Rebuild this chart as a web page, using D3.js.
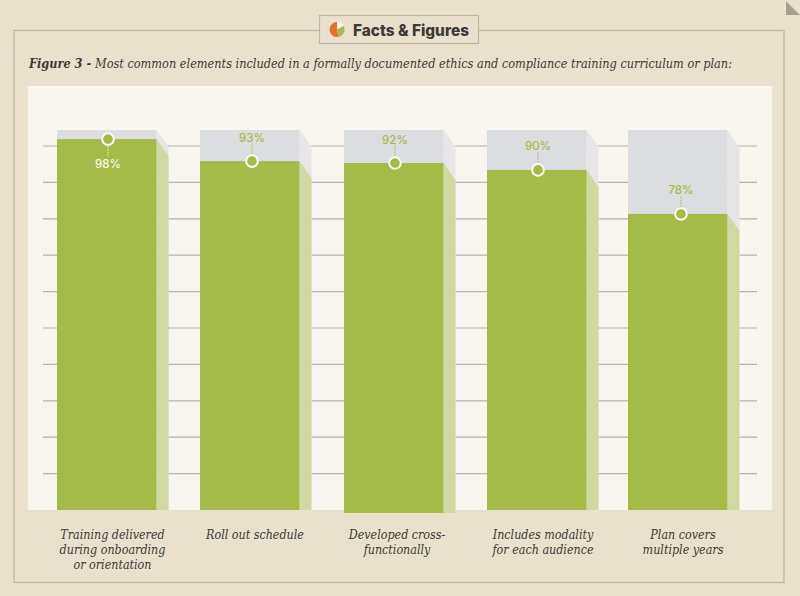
<!DOCTYPE html>
<html><head><meta charset="utf-8">
<script src="https://cdn.jsdelivr.net/npm/d3@7/dist/d3.min.js"></script>
<style>html,body{margin:0;padding:0;background:#e9e1cd}svg{display:block}</style>
</head><body><svg id="c" width="800" height="596"></svg>
<script>
const categories = [
  ["Training delivered","during onboarding","or orientation"],
  ["Roll out schedule"],
  ["Developed cross-","functionally"],
  ["Includes modality","for each audience"],
  ["Plan covers","multiple years"]
];
const barValues = [97.6, 91.8, 91.3, 89.5, 77.9];
const valueLabels = ["98%","93%","92%","90%","78%"];
const gridSteps = [1,2,3,4,5,6,7,8,9,10];
const pieShares = [0.17, 0.30, 0.53];
const pieColors = ["#f8f5ee","#a5bc48","#e66f2f"];

// layout
const barLefts = [57, 200, 344, 487, 628];
const barBottoms = [510, 510, 513, 510, 510];
const markerX = [108, 252, 395, 538, 681];
const catX = [112.5, 255, 397, 543, 683];

const svg = d3.select("#c");
const cream="#e9e1cd", panel="#f8f6ef", green="#a5bb47", greenSide="#cfd9a0", grey="#dcdde0", greySide="#e6e6e6", ink="#3c3a38", line="#bdb6a2";
const serif="'DejaVu Serif Condensed', 'DejaVu Serif', serif", sans="Inter, sans-serif";

svg.append("rect").attr("width",800).attr("height",596).attr("fill",cream);
svg.append("path").attr("d","M786 1 L800 15 L786 15 Z").attr("fill","#a5a090");
svg.append("rect").attr("x",14).attr("y",30.5).attr("width",770).attr("height",552).attr("fill","none").attr("stroke",line).attr("stroke-width",1.2);
svg.append("rect").attr("x",319.5).attr("y",15.5).attr("width",159).attr("height",28).attr("fill",cream).attr("stroke",line).attr("stroke-width",1.2);
svg.append("g").attr("transform","translate(337,29.5)").selectAll("path").data(d3.pie().sort(null)(pieShares)).join("path")
  .attr("d",d3.arc().innerRadius(0).outerRadius(7.5))
  .attr("fill",(d,i)=>pieColors[i]);
svg.append("text").attr("x",353).attr("y",35.5).attr("font-family",sans).attr("font-weight",800).attr("font-size",15.5).attr("fill",ink).attr("textLength",116).attr("lengthAdjust","spacingAndGlyphs").text("Facts & Figures");
const t=svg.append("text").attr("x",29).attr("y",68).attr("font-family",serif).attr("font-style","italic").attr("font-size",12.5).attr("fill",ink).attr("textLength",703).attr("lengthAdjust","spacingAndGlyphs");
t.append("tspan").attr("font-weight",700).text("Figure 3 - ");
t.append("tspan").text("Most common elements included in a formally documented ethics and compliance training curriculum or plan:");
svg.append("rect").attr("x",28).attr("y",86).attr("width",744).attr("height",424).attr("fill",panel);

const y=d3.scaleLinear().domain([0,100]).range([510,130]);
const gridY=d3.scaleLinear().domain([0,10]).range([510,146]);
const barW=99.5, depth=12, drop=17;

svg.append("g").selectAll("line").data(gridSteps).join("line")
  .attr("x1",43).attr("x2",757).attr("y1",d=>gridY(d)).attr("y2",d=>gridY(d))
  .attr("stroke","#b5b3ad").attr("stroke-width",1.2);

const g=svg.append("g").selectAll("g").data(barValues).join("g");
g.append("path").attr("d",(d,i)=>{const r=barLefts[i]+barW;return `M${r} ${y(100)} L${r+depth} ${y(100)+drop} L${r+depth} ${barBottoms[i]} L${r} ${barBottoms[i]} Z`;}).attr("fill",greySide);
g.append("path").attr("d",(d,i)=>{const r=barLefts[i]+barW;return `M${r} ${y(d)} L${r+depth} ${y(d)+drop} L${r+depth} ${barBottoms[i]} L${r} ${barBottoms[i]} Z`;}).attr("fill",greenSide);
g.append("rect").attr("x",(d,i)=>barLefts[i]).attr("y",y(100)).attr("width",barW).attr("height",y(0)-y(100)).attr("fill",grey);
g.append("rect").attr("x",(d,i)=>barLefts[i]).attr("y",d=>y(d)).attr("width",barW).attr("height",(d,i)=>barBottoms[i]-y(d)).attr("fill",green);
g.append("line").attr("x1",(d,i)=>markerX[i]).attr("x2",(d,i)=>markerX[i])
  .attr("y1",d=>y(d)).attr("y2",(d,i)=>i===0?y(d)+18:y(d)-18)
  .attr("stroke",(d,i)=>i===0?"#f2f2e0":green).attr("stroke-width",1).attr("stroke-dasharray","1.5 1");
g.append("circle").attr("cx",(d,i)=>markerX[i]).attr("cy",d=>y(d)).attr("r",5.8).attr("fill",green).attr("stroke","#fbfaf4").attr("stroke-width",2);
g.append("text").attr("x",(d,i)=>markerX[i]).attr("y",(d,i)=>i===0?y(d)+28.5:y(d)-19.5)
  .attr("text-anchor","middle").attr("font-family",sans).attr("font-weight",500).attr("font-size",11.5)
  .attr("fill",(d,i)=>i===0?"#fbfaf4":green).text((d,i)=>valueLabels[i]);
const cat=svg.append("g").selectAll("text").data(categories).join("text")
  .attr("font-family",serif).attr("font-style","italic").attr("font-size",12.4).attr("fill",ink).attr("text-anchor","middle");
cat.each(function(lines,i){
  d3.select(this).selectAll("tspan").data(lines).join("tspan")
    .attr("x",catX[i]).attr("y",(l,j)=>539+j*15).text(l=>l);
});
</script></body></html>
